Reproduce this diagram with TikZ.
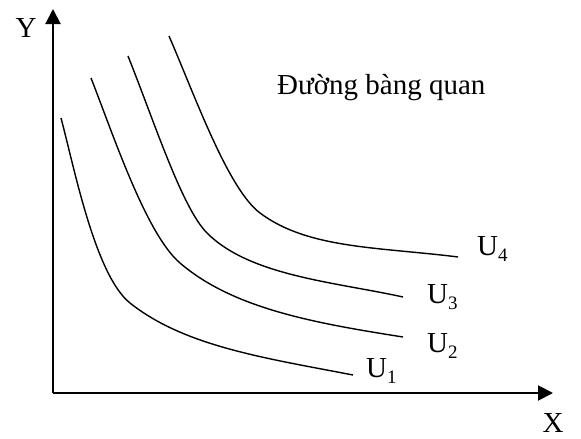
\documentclass[tikz,border=0pt]{standalone}
\usepackage{fontspec}
\setmainfont{Liberation Serif}
\usetikzlibrary{arrows.meta}
\begin{document}
\begin{tikzpicture}[x=1pt,y=-1pt,
  axis/.style={line width=2pt,-{Triangle[length=15pt,width=15pt]}},
  curve/.style={line width=1.4pt},
  lbl/.style={inner sep=0pt,font=\fontsize{29}{32}\selectfont},
  ulbl/.style={lbl,anchor=base west}]
\useasboundingbox (0,0) rectangle (581,439);
\coordinate (O) at (53,393);
\coordinate (Ytip) at (53,9);
\coordinate (Xtip) at (553,393);
\draw[axis] (O) -- (Ytip);
\draw[axis] (O) -- (Xtip);
\node[lbl] (ylab) at (26,28) {Y};
\node[lbl] (xlab) at (553,423) {X};
\node[ulbl] (title) at (277,94) {Đường bàng quan};
% U1
\draw[curve] (61,118) .. controls (74,166.5) and (95,275) .. (130,303)
  .. controls (184.6,346.4) and (265,358) .. (353,375);
% U2
\draw[curve] (91,78) .. controls (113,134) and (146,234) .. (180,263)
  .. controls (233,308.5) and (314,323) .. (403,337);
% U3
\draw[curve] (128,56) .. controls (154,121) and (182,208) .. (207,233)
  .. controls (250,276) and (335,282) .. (403,297);
% U4
\draw[curve] (169,36) .. controls (195,96) and (228,189) .. (260,213)
  .. controls (308,249) and (379,247) .. (458,257);
\node[ulbl] (u4) at (477,255) {U\raisebox{-0.22em}{\fontsize{19}{20}\selectfont 4}};
\node[ulbl] (u3) at (427,303) {U\raisebox{-0.22em}{\fontsize{19}{20}\selectfont 3}};
\node[ulbl] (u2) at (427,352) {U\raisebox{-0.22em}{\fontsize{19}{20}\selectfont 2}};
\node[ulbl] (u1) at (366,377) {U\raisebox{-0.22em}{\fontsize{19}{20}\selectfont 1}};
\end{tikzpicture}
\end{document}
